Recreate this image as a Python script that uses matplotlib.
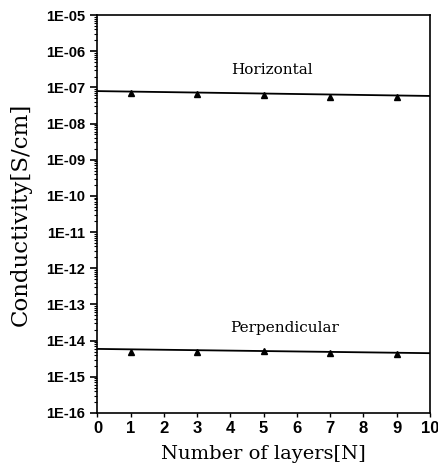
import numpy as np
import matplotlib
matplotlib.use("Agg")
import matplotlib.pyplot as plt
from matplotlib.ticker import FixedLocator, NullFormatter

layers = [1, 3, 5, 7, 9]
horizontal = [7.0e-8, 6.5e-8, 6.0e-8, 5.6e-8, 5.3e-8]
perpendicular = [5.0e-15, 5.0e-15, 5.2e-15, 4.6e-15, 4.2e-15]
fit_x = [0, 10]
horizontal_fit = [7.9e-8, 5.8e-8]
perpendicular_fit = [5.9e-15, 4.5e-15]
x_ticks = list(range(0, 11))
y_exps = list(range(-16, -4))
y_tick_labels = ["1E-%02d" % (-e) for e in y_exps]

fig = plt.figure(figsize=(4.39, 4.76), dpi=100)
ax = fig.add_axes([0.222, 0.1324, 0.757, 0.836])

ax.plot(fit_x, horizontal_fit, color="black", lw=1.3)
ax.plot(fit_x, perpendicular_fit, color="black", lw=1.3)
ax.plot(layers, horizontal, linestyle="none", marker="^", color="black", ms=4.5)
ax.plot(layers, perpendicular, linestyle="none", marker="^", color="black", ms=4.5)

ax.set_yscale("log")
ax.set_xlim(0, 10)
ax.set_ylim(1e-16, 1e-5)
ax.set_xticks(x_ticks)
ax.set_xticklabels([str(t) for t in x_ticks], fontfamily="Liberation Sans",
                   fontweight="bold", fontsize=12)
ax.yaxis.set_major_locator(FixedLocator([10.0 ** e for e in y_exps]))
ax.set_yticklabels(y_tick_labels, fontfamily="Liberation Sans",
                   fontweight="bold", fontsize=10.5)
minor = [m * 10.0 ** e for e in y_exps[:-1] for m in range(2, 10)]
ax.yaxis.set_minor_locator(FixedLocator(minor))
ax.yaxis.set_minor_formatter(NullFormatter())
ax.tick_params(axis="y", which="major", direction="out", length=5, width=1.2, pad=4)
ax.tick_params(axis="y", which="minor", direction="out", length=2.5, width=0.8)
ax.tick_params(axis="x", which="major", direction="out", length=3, width=1.0, pad=3)

for s in ax.spines.values():
    s.set_linewidth(1.2)

ax.text(5.24, 3e-7, "Horizontal", ha="center", va="center",
        fontfamily="DejaVu Serif", fontsize=11)
ax.text(5.64, 2.2e-14, "Perpendicular", ha="center", va="center",
        fontfamily="DejaVu Serif", fontsize=11)

ax.set_xlabel("Number of layers[N]", fontfamily="DejaVu Serif", fontsize=14, labelpad=6)
ax.set_ylabel("Conductivity[S/cm]", fontfamily="DejaVu Serif", fontsize=16.5, labelpad=10)

fig.savefig("out.png", dpi=100)
